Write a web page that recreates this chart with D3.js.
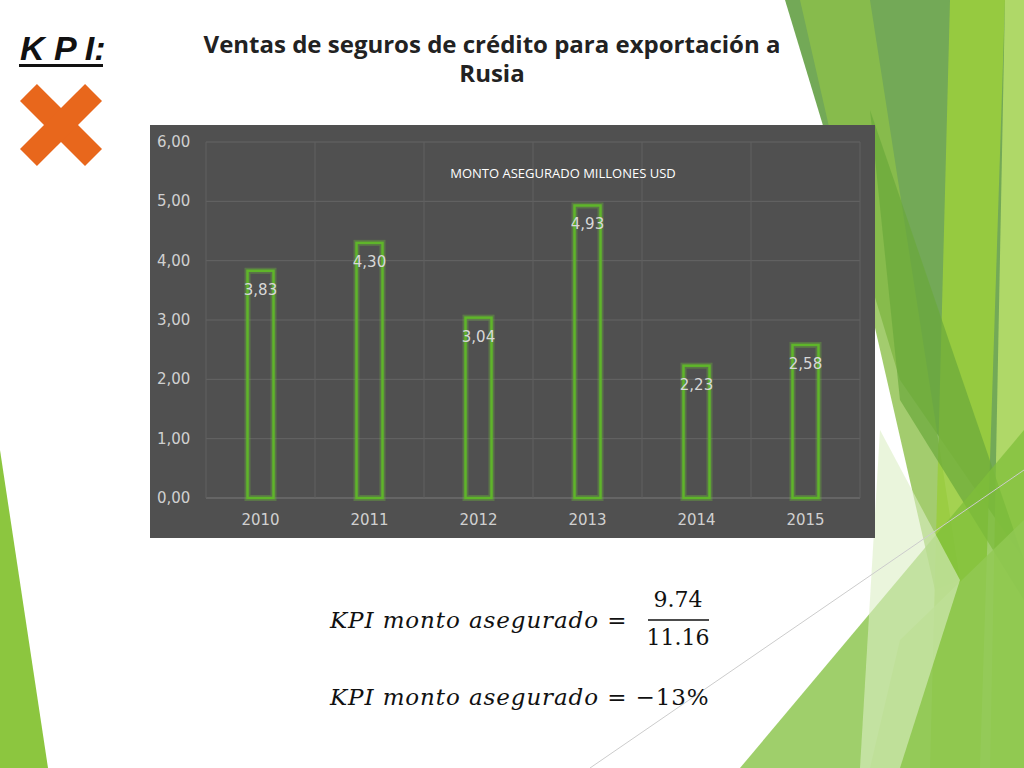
<!DOCTYPE html>
<html><head><meta charset="utf-8">
<script src="https://cdn.jsdelivr.net/npm/d3@7"></script>
<style>body{margin:0;background:#fff;overflow:hidden}</style>
</head><body>
<svg id="s" width="1024" height="768"></svg>
<script>
const years = ["2010","2011","2012","2013","2014","2015"];
const values = [3.83,4.30,3.04,4.93,2.23,2.58];
const yTicks = [0,1,2,3,4,5,6];

const svg = d3.select("#s");
const deco = [
 {p:[[785,0],[1024,0],[1024,560],[900,380]],c:"#5a9a3a",o:0.85},
 {p:[[800,0],[870,0],[960,580],[935,590]],c:"#8cbf4a",o:0.8},
 {p:[[950,0],[1005,0],[980,768],[930,768]],c:"#9acd3e",o:0.9},
 {p:[[1005,0],[1024,0],[1024,768],[990,768]],c:"#b6dd6a",o:0.9},
 {p:[[870,110],[1024,560],[1024,600],[900,400]],c:"#6aa83a",o:0.7},
 {p:[[900,640],[1024,520],[1024,768],[870,768]],c:"#c8e6a0",o:0.8},
 {p:[[740,768],[1024,430],[1024,768]],c:"#7fbf3a",o:0.75},
 {p:[[880,430],[960,580],[900,768],[860,768]],c:"#dcefc4",o:0.6},
 {p:[[0,450],[0,768],[48,768]],c:"#8cc63f",o:1}
];
svg.selectAll("polygon.d").data(deco).join("polygon")
 .attr("points",d=>d.p.map(q=>q.join(",")).join(" "))
 .attr("fill",d=>d.c).attr("opacity",d=>d.o);
svg.append("line").attr("x1",590).attr("y1",768).attr("x2",1024).attr("y2",470).attr("stroke","#ccc").attr("stroke-width",1);

svg.append("text").attr("x",20).attr("y",60).text("K P I:")
 .attr("font-family","Liberation Sans").attr("font-weight","bold").attr("font-style","italic").attr("font-size",34).attr("fill","#111");
svg.append("rect").attr("x",19).attr("y",64).attr("width",84).attr("height",3).attr("fill","#111");
const xg = svg.append("g").attr("transform","translate(61,125) rotate(45)");
xg.append("rect").attr("x",-46).attr("y",-12).attr("width",92).attr("height",24).attr("fill","#e8671c");
xg.append("rect").attr("x",-12).attr("y",-46).attr("width",24).attr("height",92).attr("fill","#e8671c");

["Ventas de seguros de crédito para exportación a","Rusia"].forEach((t,i)=>
 svg.append("text").attr("x",492).attr("y",53+i*29).attr("text-anchor","middle").text(t)
  .attr("font-family","Open Sans").attr("font-weight","bold").attr("font-size",24).attr("fill","#222"));

svg.append("rect").attr("x",150).attr("y",125).attr("width",725).attr("height",413).attr("fill","#505050");
const x = d3.scaleBand().domain(years).range([206,860]);
const y = d3.scaleLinear().domain([0,6]).range([498,142]);
const g = svg.append("g");
g.selectAll("line.h").data(yTicks).join("line")
 .attr("x1",206).attr("x2",860).attr("y1",d=>y(d)).attr("y2",d=>y(d))
 .attr("stroke",d=>d===0?"#7a7a7a":"#656565").attr("stroke-width",1);
g.selectAll("line.v").data(years.concat(["end"])).join("line")
 .attr("x1",(d,i)=>206+i*x.bandwidth()).attr("x2",(d,i)=>206+i*x.bandwidth())
 .attr("y1",142).attr("y2",498).attr("stroke","#606060");
g.selectAll("text.yt").data(yTicks).join("text")
 .attr("x",157).attr("y",d=>y(d)+5).text(d=>d3.format(".2f")(d).replace(".",","))
 .attr("font-family","DejaVu Sans").attr("font-size",15).attr("fill","#d0d0d0");
g.selectAll("text.xt").data(years).join("text")
 .attr("x",d=>x(d)+x.bandwidth()/2).attr("y",525).attr("text-anchor","middle").text(d=>d)
 .attr("font-family","DejaVu Sans").attr("font-size",15).attr("fill","#d0d0d0");
const bw=26;
g.selectAll("rect.glow").data(values).join("rect")
 .attr("x",(d,i)=>x(years[i])+x.bandwidth()/2-bw/2).attr("y",d=>y(d))
 .attr("width",bw).attr("height",d=>y(0)-y(d))
 .attr("fill","none").attr("stroke","#6dbb3a").attr("stroke-opacity",0.35).attr("stroke-width",6);
g.selectAll("rect.bar").data(values).join("rect")
 .attr("x",(d,i)=>x(years[i])+x.bandwidth()/2-bw/2).attr("y",d=>y(d))
 .attr("width",bw).attr("height",d=>y(0)-y(d))
 .attr("fill","none").attr("stroke","#5fb52a").attr("stroke-width",2.5);
g.selectAll("text.lab").data(values).join("text")
 .attr("x",(d,i)=>x(years[i])+x.bandwidth()/2).attr("y",d=>y(d)+24).attr("text-anchor","middle")
 .text(d=>d3.format(".2f")(d).replace(".",","))
 .attr("font-family","DejaVu Sans").attr("font-size",15).attr("fill","#d8d8d8");
svg.append("text").attr("x",563).attr("y",178).attr("text-anchor","middle").text("MONTO ASEGURADO MILLONES USD")
 .attr("font-family","Open Sans").attr("font-size",13).attr("fill","#fff");

const ff="DejaVu Serif";
svg.append("text").attr("x",330).attr("y",628).text("KPI monto asegurado =")
 .attr("font-family",ff).attr("font-style","italic").attr("font-size",23).attr("letter-spacing",0.9).attr("fill","#111");
svg.append("text").attr("x",678).attr("y",607).attr("text-anchor","middle").text("9.74")
 .attr("font-family",ff).attr("font-size",22).attr("fill","#111");
svg.append("line").attr("x1",648).attr("x2",709).attr("y1",620).attr("y2",620).attr("stroke","#111").attr("stroke-width",1.5);
svg.append("text").attr("x",678).attr("y",645).attr("text-anchor","middle").text("11.16")
 .attr("font-family",ff).attr("font-size",22).attr("fill","#111");
const t2=svg.append("text").attr("x",330).attr("y",705).attr("font-family",ff).attr("font-size",23).attr("letter-spacing",0.9).attr("fill","#111");
t2.append("tspan").attr("font-style","italic").text("KPI monto asegurado ");
t2.append("tspan").text("= −13%");
</script>
</body></html>
